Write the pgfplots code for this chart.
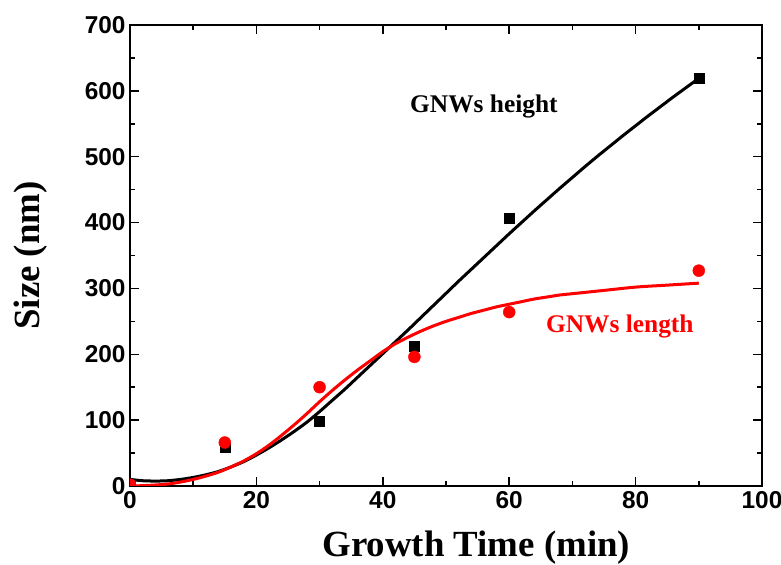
\documentclass[border=0pt]{standalone}
\usepackage{pgfplots}
\pgfplotsset{compat=1.18}
\usepackage{fontspec}
\setmainfont{Liberation Serif}
\newfontfamily\ticksans{Liberation Sans}

\definecolor{fitred}{RGB}{255,0,0}

\begin{document}
\begin{tikzpicture}
\begin{axis}[
    name=ax,
    scale only axis,
    width=632bp, height=461bp,
    xmin=0, xmax=100, ymin=0, ymax=700,
    xtick={0,20,...,100}, ytick={0,100,...,700},
    minor x tick num=1, minor y tick num=1,
    tick align=inside,
    major tick length=9bp, minor tick length=5bp,
    every tick/.style={line width=1.5bp, black},
    axis line style={line width=2bp},
    /pgf/number format/assume math mode=true,
    tick label style={font=\fontsize{24.5}{24.5}\selectfont\ticksans\bfseries},
    xticklabel style={yshift=-2bp},
    yticklabel style={xshift=-1bp},
    xlabel={Growth Time (min)},
    ylabel={Size (nm)},
    label style={font=\fontsize{37}{37}\selectfont\bfseries},
    xlabel style={at={(axis description cs:0.548,-0.134)}, anchor=center},
    ylabel style={at={(axis description cs:-0.158,0.5)}, anchor=center},
    clip mode=individual,
    clip marker paths=true,
]
% fitted curves
\addplot[black, line width=3bp, smooth] coordinates {
 (0,10) (2,8) (4,7.5) (6,8) (8,10) (10,13) (12,17) (14,22) (16,29) (18,37)
 (20,47) (22,58) (24,70) (26,83) (28,97) (30,113) (32,130) (34,147) (36,165)
 (38,183) (40,201) (42,219) (44,237) (46,255.5) (48,274) (50,292.5) (52,311)
 (54,329) (56,347) (58,365) (60,383) (62,400.5) (64,418) (66,435) (68,452)
 (70,468.5) (72,485) (74,501) (76,516.5) (78,532) (80,547) (82,562) (84,576.5)
 (86,591) (88,605) (90,619)};
\addplot[fitred, line width=3bp, smooth] coordinates {
 (0,0) (2,0.5) (4,1.5) (6,3) (8,6) (10,10) (12,15) (14,21) (16,29) (18,38)
 (20,49) (22,62) (24,77) (26,93) (28,110) (30,128) (32,145) (34,161) (36,176)
 (38,190) (40,204) (42,216) (44,226) (46,235) (48,243) (50,250) (52,256)
 (54,262) (56,267) (58,272) (60,276) (62,280) (64,284) (66,287) (68,290)
 (70,292) (75,297) (80,302) (85,305) (90,308)};
% measured points
\addplot[only marks, mark=square*, mark size=5bp, black] coordinates {
 (0,2) (15,59) (30,99) (45,212) (60,407) (90,619)};
\addplot[only marks, mark=*, mark size=6bp, fitred] coordinates {
 (0,2) (15,66) (30,150) (45,196) (60,264) (90,327)};
\node[font=\fontsize{25.5}{26}\selectfont\bfseries, black] at (axis cs:56,577) {GNWs height};
\node[font=\fontsize{25.5}{26}\selectfont\bfseries, fitred] at (axis cs:77.5,242) {GNWs length};
\end{axis}
\pgfresetboundingbox
\path[use as bounding box] ([shift={(-130bp,-79bp)}]ax.south west) rectangle ([shift={(19bp,25bp)}]ax.north east);
\end{tikzpicture}
\end{document}
